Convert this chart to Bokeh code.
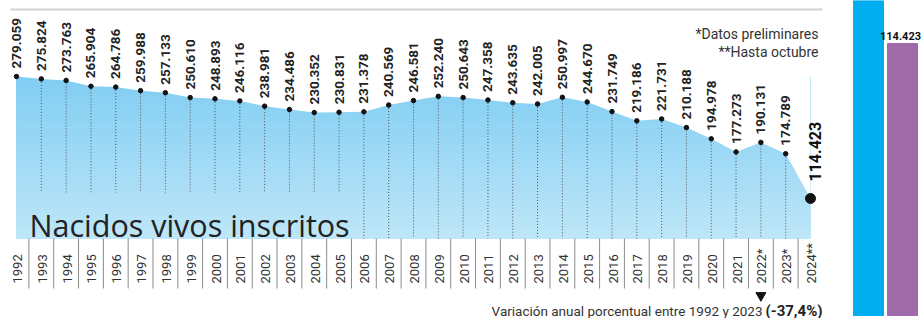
import numpy as np
from bokeh.plotting import figure
from bokeh.models import Range1d, Label
from bokeh.core.properties import value
from bokeh.embed import file_html
from bokeh.resources import INLINE

# ---------------- data ----------------
years = list(range(1992, 2025))
year_labels = [str(y) for y in range(1992, 2022)] + ["2022*", "2023*", "2024**"]
births = [279059, 275824, 273763, 265904, 264786, 259988, 257133, 250610,
          248893, 246116, 238981, 234486, 230352, 230831, 231378, 240569,
          246581, 252240, 250643, 247358, 243635, 242005, 250997, 244670,
          231749, 219186, 221731, 210188, 194978, 177273, 190131, 174789,
          114423]
value_labels = [f"{v:,}".replace(",", ".") for v in births]
side_values = [150000, 114423]          # cropped neighbouring chart
side_labels = ["", "114.423"]
variation_text = "Variación anual porcentual entre 1992 y 2023"
variation_value = "(-37,4%)"
marked_year = 2022

# ---------------- geometry helpers (reference pixels -> data) ----------------
W, H = 921, 318
PX_YEAR = 24.8125
PX_PER_UNIT = 0.741 / 1000.0


def xd(px):
    return 1992 + (px - 16) / PX_YEAR


def yd(py):
    return 279059 - (py - 76) / PX_PER_UNIT


NARROW = "Roboto"

p = figure(width=W, height=H, output_backend="svg", toolbar_location=None,
           x_range=Range1d(xd(0), xd(W)), y_range=Range1d(yd(H), yd(0)),
           x_axis_type=None, y_axis_type=None, min_border=0,
           outline_line_color=None, background_fill_color="white",
           border_fill_color="white")
p.grid.visible = False

yrs = np.array(years, dtype=float)
vals = np.array(births, dtype=float)
base = yd(238)

# gradient area: horizontal bands, masked above the data line
n = 48
levels = np.linspace(base, vals.max(), n + 1)
top_c = np.array([128, 205, 243])
bot_c = np.array([190, 230, 248])
cols = []
for i in range(n):
    t = (i + 0.5) / n
    c = bot_c + (top_c - bot_c) * t
    cols.append("#%02x%02x%02x" % tuple(int(round(v)) for v in c))
p.quad(left=yrs[0], right=yrs[-1], bottom=levels[:-1], top=levels[1:],
       fill_color=cols, line_color=cols, line_width=1)
p.varea(x=yrs, y1=vals, y2=yd(-5), fill_color="white")

# dotted drop lines (hidden behind the title for the first years)
inner_y = yrs[1:-1]
inner_v = vals[1:-1]
drop_end = np.where(inner_y <= 2005, yd(192), base)
p.segment(x0=inner_y, y0=inner_v, x1=inner_y, y1=drop_end,
          line_color="#555555", line_dash="1 2", line_width=1)

# points
p.scatter(yrs[:-1], vals[:-1], size=4.5, color="#111111")
p.scatter(yrs[-1:], vals[-1:], size=10, color="#111111")

# value labels
p.text(x=yrs[:-1], y=vals[:-1], text=value_labels[:-1], angle=np.pi / 2,
       text_align="left", text_baseline="middle", y_offset=-8,
       text_font=value(NARROW), text_font_style="bold",
       text_font_size="13.5px", text_color="#222222")
p.text(x=yrs[-1:], y=vals[-1:], text=value_labels[-1:], angle=np.pi / 2,
       text_align="left", text_baseline="middle", y_offset=-17, x_offset=4,
       text_font=value(NARROW), text_font_style="bold",
       text_font_size="16px", text_color="#111111")

# year labels and separators
mids = (yrs[:-1] + yrs[1:]) / 2
p.segment(x0=mids, y0=base, x1=mids, y1=yd(288), line_color="#8a8a8a",
          line_width=1)
p.text(x=yrs, y=yd(283), text=year_labels, angle=np.pi / 2,
       text_align="left", text_baseline="middle", x_offset=1,
       text_font=value(NARROW), text_font_size="13px", text_color="#333333")

# top rule
p.segment(x0=[xd(10)], y0=[yd(9)], x1=[xd(822)], y1=[yd(9)],
          line_color="#d2d2d2", line_width=2)

# notes
p.add_layout(Label(x=xd(818), y=yd(33), text="*Datos preliminares",
                   text_align="right", text_baseline="alphabetic",
                   text_font=NARROW, text_font_size="14px",
                   text_color="#333333"))
p.add_layout(Label(x=xd(818), y=yd(51), text="**Hasta octubre",
                   text_align="right", text_baseline="alphabetic",
                   text_font=NARROW, text_font_size="14px",
                   text_color="#333333"))

# title
p.add_layout(Label(x=xd(29), y=yd(224), text="Nacidos vivos inscritos",
                   text_align="left", text_baseline="alphabetic",
                   text_font="Open Sans", text_font_size="30.5px",
                   text_color="#222222"))

# variation caption
p.scatter([marked_year], [yd(295)], marker="inverted_triangle", size=10,
          color="#111111")
p.add_layout(Label(x=xd(822), y=yd(310), text=variation_value,
                   text_align="right", text_baseline="alphabetic",
                   text_font=NARROW, text_font_size="15px",
                   text_font_style="bold", text_color="#222222"))
p.add_layout(Label(x=xd(762), y=yd(310), text=variation_text,
                   text_align="right", text_baseline="alphabetic",
                   text_font=NARROW, text_font_size="13.5px",
                   text_color="#333333"))

# cropped neighbouring bar chart at the right edge
side_scale = 2.377 / 1000.0
side_x = [xd(868), xd(902)]
side_w = 30 / PX_YEAR
side_top = [yd(315 - v * side_scale) for v in side_values]
p.vbar(x=side_x, width=side_w, bottom=yd(315), top=side_top,
       color=["#00aeef", "#9e6ba8"])
p.text(x=side_x[1:], y=side_top[1:], text=side_labels[1:], y_offset=-4,
       x_offset=-2, text_align="center", text_baseline="bottom",
       text_font=value(NARROW), text_font_style="bold",
       text_font_size="11px", text_color="#111111")

open("out.html", "w").write(file_html(p, INLINE))
